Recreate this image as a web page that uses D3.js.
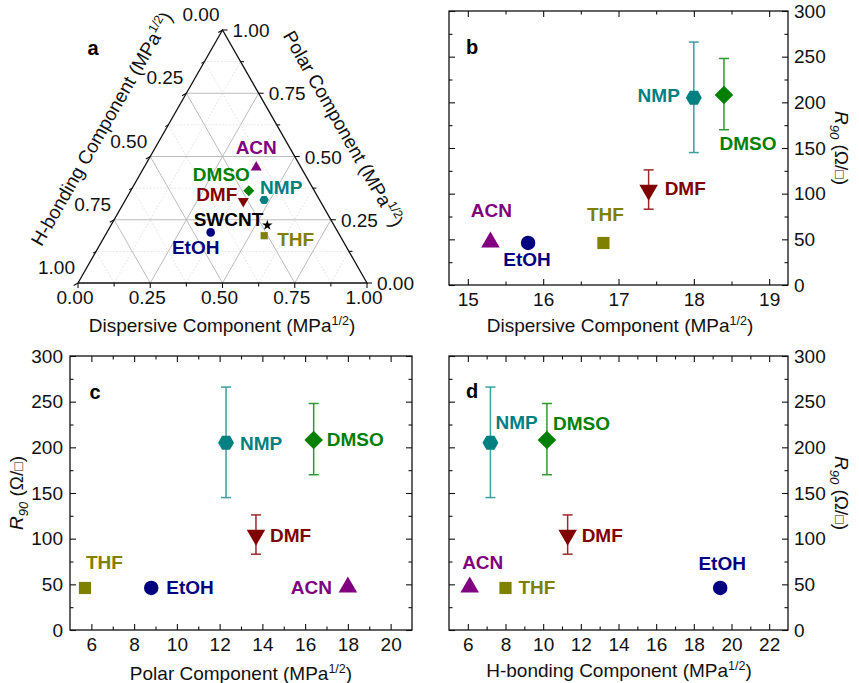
<!DOCTYPE html>
<html>
<head>
<meta charset="utf-8">
<script src="https://cdn.jsdelivr.net/npm/d3@7"></script>
<style>
  html, body { margin: 0; padding: 0; background: #fff; }
  svg { display: block; font-family: "Liberation Sans", Arial, sans-serif; }
</style>
</head>
<body>
<svg id="chart" width="859" height="683"></svg>
<script>
// ---------------- DATA ----------------
const solvents   = ["ACN", "EtOH", "THF", "DMF", "NMP", "DMSO"];
const dispersive = [15.3, 15.8, 16.8, 17.4, 18.0, 18.4];
const polar      = [18.0, 8.8, 5.7, 13.7, 12.3, 16.4];
const hbonding   = [6.1, 19.4, 8.0, 11.3, 7.2, 10.2];
const r90        = [47, 46, 46, 104, 205, 208];
const r90Low     = [null, null, null, 83, 145, 170];
const r90High    = [null, null, null, 126, 266, 248];
const swcntHSP   = [17.8, 7.5, 7.6];   // dispersive, polar, h-bonding
const ternaryTicks = ["0.00", "0.25", "0.50", "0.75", "1.00"];
const dispTicks  = [15, 16, 17, 18, 19];
const polarTicks = [6, 8, 10, 12, 14, 16, 18, 20];
const hbTicks    = [6, 8, 10, 12, 14, 16, 18, 20, 22];
const rTicks     = [0, 50, 100, 150, 200, 250, 300];

// ---------------- STYLE ----------------
const colors    = {ACN: "#800080", EtOH: "#000080", THF: "#808000", DMF: "#800000", NMP: "#008080", DMSO: "#008000"};
const errColors = {DMF: "#9a2a2a", NMP: "#3aa0a0", DMSO: "#2e9a2e"};
const FS = 19;

const svg = d3.select("#chart");

// custom symbol types
const hexagon = { draw(ctx, size) {
  const r = Math.sqrt(size / (1.5 * Math.sqrt(3)));
  for (let i = 0; i < 6; i++) {
    const a = Math.PI / 3 * i;
    const x = r * Math.cos(a), y = r * Math.sin(a);
    if (i === 0) ctx.moveTo(x, y); else ctx.lineTo(x, y);
  }
  ctx.closePath();
}};
const diamond = { draw(ctx, size) {
  const r = Math.sqrt(size / 2);
  ctx.moveTo(0, -r); ctx.lineTo(r, 0); ctx.lineTo(0, r); ctx.lineTo(-r, 0); ctx.closePath();
}};
const symbolInfo = {
  ACN:  {type: d3.symbolTriangle, rot: 0,   k: 0.9},
  EtOH: {type: d3.symbolCircle,   rot: 0,   k: 1.0},
  THF:  {type: d3.symbolSquare,   rot: 0,   k: 0.9},
  DMF:  {type: d3.symbolTriangle, rot: 180, k: 0.9},
  NMP:  {type: hexagon,           rot: 0,   k: 1.0},
  DMSO: {type: diamond,           rot: 0,   k: 1.05}
};
function symPath(name, size) {
  const s = symbolInfo[name];
  return d3.symbol().type(s.type).size(size * s.k)();
}

function addSup(textSel, main, sup, tail) {
  textSel.append("tspan").text(main);
  textSel.append("tspan").attr("font-size", 12.5).attr("dy", -7.5).text(sup);
  textSel.append("tspan").attr("dy", 7.5).text(tail);
}

// ================= PANEL A : TERNARY =================
const tx = d3.scaleLinear().domain([0, 1]).range([78, 367]);
const ty = d3.scaleLinear().domain([0, 1]).range([283, 30]);
function tern(d, p) { return [tx(d + p / 2), ty(p)]; }

const gA = svg.append("g");
const gridVals = d3.range(1, 8).map(i => i / 8);
const gridLines = [];
gridVals.forEach(v => {
  const major = Math.abs(v * 4 - Math.round(v * 4)) < 1e-9;
  gridLines.push({a: tern(1 - v, v), b: tern(0, v), major});        // const polar
  gridLines.push({a: tern(v, 0), b: tern(v, 1 - v), major});        // const dispersive
  gridLines.push({a: tern(1 - v, 0), b: tern(0, 1 - v), major});    // const h-bonding
});
gA.selectAll("line.grid").data(gridLines).join("line")
  .attr("x1", d => d.a[0]).attr("y1", d => d.a[1])
  .attr("x2", d => d.b[0]).attr("y2", d => d.b[1])
  .attr("stroke", d => d.major ? "#b4b4b4" : "#dcdcdc")
  .attr("stroke-width", d => d.major ? 0.9 : 0.7)
  .attr("stroke-dasharray", d => d.major ? null : "2,1.5");

const tri = [tern(0, 0), tern(1, 0), tern(0, 1)];
gA.append("path").attr("d", "M" + tri.map(p => p.join(",")).join("L") + "Z")
  .attr("fill", "none").attr("stroke", "#111").attr("stroke-width", 1.3);

// ticks
d3.range(0, 9).map(i => i / 8).forEach(v => {
  const len = (Math.round(v * 8) % 2 === 0) ? 5 : 3.5;
  const pb = tern(v, 0);
  gA.append("line").attr("x1", pb[0]).attr("y1", pb[1]).attr("x2", pb[0]).attr("y2", pb[1] + len).attr("stroke", "#111").attr("stroke-width", 1.1);
  const pr = tern(1 - v, v);
  gA.append("line").attr("x1", pr[0]).attr("y1", pr[1]).attr("x2", pr[0] + len).attr("y2", pr[1]).attr("stroke", "#111").attr("stroke-width", 1.1);
  const pl = tern(0, 1 - v);
  gA.append("line").attr("x1", pl[0]).attr("y1", pl[1]).attr("x2", pl[0] - len * 0.87).attr("y2", pl[1] + len * 0.5).attr("stroke", "#111").attr("stroke-width", 1.1);
});
ternaryTicks.forEach((lab, i) => {
  const v = i / 4;
  const pb = tern(v, 0);
  gA.append("text").attr("x", pb[0] - 3).attr("y", pb[1] + 21).attr("text-anchor", "middle").attr("font-size", FS).attr("fill", "#111").text(lab);
  const pr = tern(1 - v, v);
  gA.append("text").attr("x", pr[0] + 10).attr("y", pr[1] + 7).attr("text-anchor", "start").attr("font-size", FS).attr("fill", "#111").text(lab);
  const pl = tern(0, 1 - v);   // h-bonding value v at left side (0 at top)
  gA.append("text").attr("x", pl[0] - 3).attr("y", pl[1] - 9).attr("text-anchor", "end").attr("font-size", FS).attr("fill", "#111").text(lab);
});

// axis titles
addSup(gA.append("text").attr("x", 222).attr("y", 332).attr("text-anchor", "middle").attr("font-size", FS).attr("fill", "#111"),
  "Dispersive Component (MPa", "1/2", ")");
{
  const ang = Math.atan2(ty(0) - ty(1), tx(1) - tx(0.5)) * 180 / Math.PI;
  const midR = tern(0.5, 0.5), midL = tern(0, 0.5);
  const rad = ang * Math.PI / 180;
  const nR = [Math.sin(rad), -Math.cos(rad)];
  const cR = [midR[0] + 56 * nR[0], midR[1] + 56 * nR[1]];
  addSup(gA.append("text").attr("transform", `translate(${cR[0]},${cR[1]}) rotate(${ang})`)
    .attr("text-anchor", "middle").attr("dy", "0.35em").attr("font-size", FS).attr("fill", "#111"),
    "Polar Component (MPa", "1/2", ")");
  const nL = [-Math.sin(rad), -Math.cos(rad)];
  const cL = [midL[0] + 56 * nL[0], midL[1] + 56 * nL[1]];
  addSup(gA.append("text").attr("transform", `translate(${cL[0]},${cL[1]}) rotate(${-ang})`)
    .attr("text-anchor", "middle").attr("dy", "0.35em").attr("font-size", FS).attr("fill", "#111"),
    "H-bonding Component (MPa", "1/2", ")");
}
gA.append("text").attr("x", 93).attr("y", 55).attr("text-anchor", "middle").attr("font-size", 20).attr("font-weight", "bold").text("a");

// ternary points
const ternLabelPos = {
  ACN:  {dx: 0,   dy: -13, anchor: "middle"},
  EtOH: {dx: -15, dy: 22,  anchor: "middle"},
  THF:  {dx: 13,  dy: 10.5,anchor: "start"},
  DMF:  {dx: -6,  dy: 0,   anchor: "end"},
  NMP:  {dx: -4,  dy: -6.5,anchor: "start"},
  DMSO: {dx: 1,   dy: -9.5,anchor: "end"}
};
solvents.forEach((s, i) => {
  const sum = dispersive[i] + polar[i] + hbonding[i];
  const p = tern(dispersive[i] / sum, polar[i] / sum);
  gA.append("path").attr("d", symPath(s, 58))
    .attr("transform", `translate(${p[0]},${p[1]}) rotate(${symbolInfo[s].rot})`)
    .attr("fill", colors[s]);
  const L = ternLabelPos[s];
  gA.append("text").attr("x", p[0] + L.dx).attr("y", p[1] + L.dy).attr("text-anchor", L.anchor)
    .attr("font-size", FS).attr("font-weight", "bold").attr("fill", colors[s]).text(s);
});
{
  const sum = swcntHSP[0] + swcntHSP[1] + swcntHSP[2];
  const p = tern(swcntHSP[0] / sum, swcntHSP[1] / sum);
  gA.append("path").attr("d", d3.symbol().type(d3.symbolStar).size(34)())
    .attr("transform", `translate(${p[0]},${p[1]})`).attr("fill", "#000");
  gA.append("text").attr("x", p[0] - 4).attr("y", p[1] + 0.5).attr("text-anchor", "end")
    .attr("font-size", FS).attr("font-weight", "bold").attr("fill", "#000").text("SWCNT");
}

// ================= SCATTER PANELS =================
function scatterPanel(opts) {
  const {left, right, top, bottom, xDomain, xMajor, xMinor, xVals, yAxisSide, letter, letterPos, xTitle, xTitlePos, yTitlePos, labelPos} = opts;
  const g = svg.append("g");
  const x = d3.scaleLinear().domain(xDomain).range([left, right]);
  const y = d3.scaleLinear().domain([0, 300]).range([bottom, top]);
  const yMinor = d3.range(25, 300, 50);

  function ax(axisFn, scale, vals, size, pad, fmt, transform) {
    const a = g.append("g").attr("transform", transform)
      .call(axisFn(scale).tickValues(vals).tickSizeInner(size).tickSizeOuter(0).tickPadding(pad).tickFormat(fmt));
    a.select(".domain").remove();
    a.selectAll("line").attr("stroke", "#111").attr("stroke-width", 1.1);
    a.selectAll("text").attr("font-size", FS).attr("fill", "#111").attr("font-family", null);
    return a;
  }
  const none = () => "";
  // bottom
  ax(d3.axisBottom, x, xMajor, -6, 8, d3.format("d"), `translate(0,${bottom})`);
  ax(d3.axisBottom, x, xMinor, -3.5, 8, none, `translate(0,${bottom})`);
  // top
  ax(d3.axisTop, x, xMajor, -6, 3, none, `translate(0,${top})`);
  ax(d3.axisTop, x, xMinor, -3.5, 3, none, `translate(0,${top})`);
  // left / right
  if (yAxisSide === "left") {
    ax(d3.axisLeft, y, rTicks, -6, 7, d3.format("d"), `translate(${left},0)`);
    ax(d3.axisRight, y, rTicks, -6, 3, none, `translate(${right},0)`);
  } else {
    ax(d3.axisRight, y, rTicks, -6, 6, d3.format("d"), `translate(${right},0)`);
    ax(d3.axisLeft, y, rTicks, -6, 3, none, `translate(${left},0)`);
  }
  ax(d3.axisLeft, y, yMinor, -3.5, 3, none, `translate(${left},0)`);
  ax(d3.axisRight, y, yMinor, -3.5, 3, none, `translate(${right},0)`);

  g.append("rect").attr("x", left).attr("y", top).attr("width", right - left).attr("height", bottom - top)
    .attr("fill", "none").attr("stroke", "#111").attr("stroke-width", 1.3);

  g.append("text").attr("x", letterPos[0]).attr("y", letterPos[1]).attr("text-anchor", "middle")
    .attr("font-size", 20).attr("font-weight", "bold").text(letter);

  addSup(g.append("text").attr("x", xTitlePos[0]).attr("y", xTitlePos[1]).attr("text-anchor", "middle")
    .attr("font-size", FS).attr("fill", "#111"), xTitle, "1/2", ")");

  const yt = g.append("text")
    .attr("transform", `translate(${yTitlePos[0]},${yTitlePos[1]}) rotate(${yAxisSide === "left" ? -90 : 90})`)
    .attr("text-anchor", "middle").attr("dy", "0.35em").attr("font-size", FS).attr("fill", "#111");
  yt.append("tspan").attr("font-style", "italic").text("R");
  yt.append("tspan").attr("font-style", "italic").attr("font-size", 13).attr("dy", 5).text("90");
  yt.append("tspan").attr("dy", -5).text(" (\u03A9/");
  yt.append("tspan").attr("font-size", 14).text("\u25A1");
  yt.append("tspan").text(")");

  solvents.forEach((s, i) => {
    const px = x(xVals[i]), py = y(r90[i]);
    if (r90Low[i] !== null) {
      const c = errColors[s];
      const y1 = y(r90Low[i]), y2 = y(r90High[i]);
      g.append("line").attr("x1", px).attr("x2", px).attr("y1", y1).attr("y2", y2).attr("stroke", c).attr("stroke-width", 1.5);
      [y1, y2].forEach(yy => g.append("line").attr("x1", px - 5).attr("x2", px + 5).attr("y1", yy).attr("y2", yy)
        .attr("stroke", c).attr("stroke-width", 1.5));
    }
    g.append("path").attr("d", symPath(s, 165))
      .attr("transform", `translate(${px},${py}) rotate(${symbolInfo[s].rot})`)
      .attr("fill", colors[s]);
    const L = labelPos[s];
    g.append("text").attr("x", px + L[0]).attr("y", py + L[1]).attr("text-anchor", L[2])
      .attr("font-size", FS).attr("font-weight", "bold").attr("fill", colors[s]).text(s);
  });
}

// Panel b
scatterPanel({
  left: 449, right: 788, top: 11, bottom: 285,
  xDomain: [14.75, 19.25], xMajor: dispTicks, xMinor: [15.5, 16.5, 17.5, 18.5],
  xVals: dispersive, yAxisSide: "right", letter: "b", letterPos: [472, 54],
  xTitle: "Dispersive Component (MPa", xTitlePos: [620, 332], yTitlePos: [842, 148],
  labelPos: {
    ACN: [1, -25, "middle"], EtOH: [-1, 23, "middle"], THF: [2, -22, "middle"],
    DMF: [16, 5, "start"], NMP: [-14, 4.5, "end"], DMSO: [24, 55, "middle"]
  }
});
// Panel c
scatterPanel({
  left: 70, right: 412, top: 356, bottom: 630,
  xDomain: [5, 21], xMajor: polarTicks, xMinor: [7, 9, 11, 13, 15, 17, 19],
  xVals: polar, yAxisSide: "left", letter: "c", letterPos: [95, 399],
  xTitle: "Polar Component (MPa", xTitlePos: [241, 680], yTitlePos: [16, 493],
  labelPos: {
    ACN: [-16, 7, "end"], EtOH: [15, 6.5, "start"], THF: [1, -19, "start"],
    DMF: [14, 7, "start"], NMP: [14, 7, "start"], DMSO: [13, 6, "start"]
  }
});
// Panel d
scatterPanel({
  left: 449, right: 788, top: 356, bottom: 630,
  xDomain: [5, 23], xMajor: hbTicks, xMinor: [7, 9, 11, 13, 15, 17, 19, 21],
  xVals: hbonding, yAxisSide: "right", letter: "d", letterPos: [472, 398],
  xTitle: "H-bonding Component (MPa", xTitlePos: [619, 677], yTitlePos: [842, 493],
  labelPos: {
    ACN: [13, -18, "middle"], EtOH: [2, -18, "middle"], THF: [13, 6.5, "start"],
    DMF: [14, 7, "start"], NMP: [5, -14, "start"], DMSO: [6, -10, "start"]
  }
});
</script>
</body>
</html>
